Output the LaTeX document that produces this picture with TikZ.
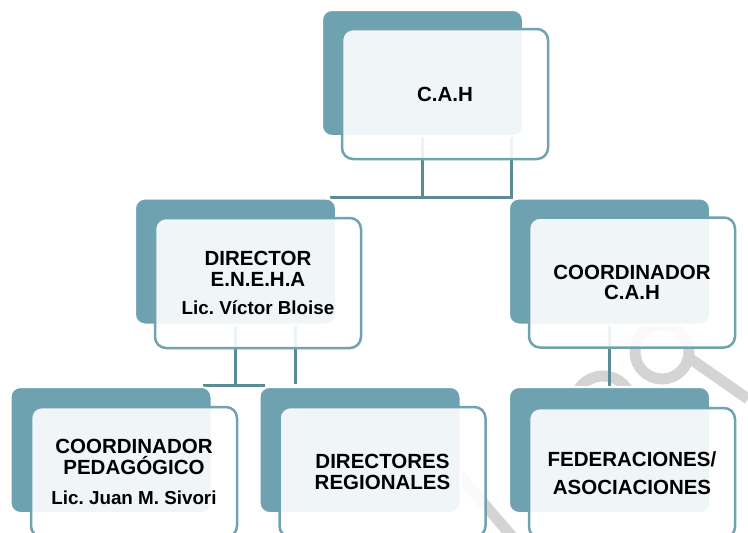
\documentclass[tikz,border=0pt]{standalone}
\usepackage{fontspec}
\setmainfont{Liberation Sans}
\usepackage{xcolor}
\usetikzlibrary{backgrounds}
\definecolor{tealback}{HTML}{6FA2B1}
\definecolor{tealframe}{HTML}{70A2B0}
\definecolor{teallink}{HTML}{5B8B97}
\definecolor{wmgray}{HTML}{D4D4D4}
\frenchspacing
\newcommand{\namefont}{\fontsize{18.8}{20.5}\selectfont}

\begin{document}
\begin{tikzpicture}[x=1pt, y=-1pt,
    backbox/.style={rectangle, rounded corners=10pt, fill=tealback, draw=white, line width=2pt,
        minimum width=201pt, minimum height=126pt},
    frontbox/.style={rectangle, rounded corners=11pt, fill=white, fill opacity=0.9, text opacity=1,
        draw=tealframe, draw opacity=1, line width=2.5pt, minimum width=206pt, minimum height=130pt,
        align=center, inner sep=0pt, font=\bfseries\fontsize{20.5}{20.5}\selectfont},
    link/.style={teallink, line width=3pt},
    wmline/.style={wmgray, line width=11pt}]
    \useasboundingbox (0,0) rectangle (748,533);
    \clip (0,0) rectangle (748,533);

    % back and front boxes
    \node[backbox] (cahB) at (422.5,73) {};
    \node[frontbox] (cah) at (445,94) {C.A.H};
    \node[backbox] (dirB) at (235.5,261.5) {};
    \node[frontbox] (dir) at (258,283) {DIRECTOR\\E.N.E.H.A\\[8pt]{\namefont Lic. Víctor Bloise}};
    \node[backbox] (coordB) at (609.5,261.5) {};
    \node[frontbox] (coord) at (632,282.5) {COORDINADOR\\C.A.H};
    \node[backbox] (pedB) at (111,450) {};
    \node[frontbox] (ped) at (134,472) {COORDINADOR\\PEDAGÓGICO\\[10pt]{\namefont Lic. Juan M. Sivori}};
    \node[backbox] (regB) at (360,450) {};
    \node[frontbox] (reg) at (382.5,472) {DIRECTORES\\REGIONALES};
    \node[backbox] (fedB) at (609.5,450) {};
    \node[frontbox] (fed) at (632,473) {FEDERACIONES/\\[8pt]ASOCIACIONES};

    \begin{scope}[on background layer]
    % watermark
    \draw[wmline] (603,405) circle (29);
    \draw[wmline] (662,352) circle (27);
    \draw[wmline] (685,355) -- (748,399);
    \draw[wmline] (455,470) -- (515,540);

    % connectors
    \coordinate (j1) at (330,197);
    \coordinate (j2) at (203,385);
    \coordinate (j3) at (265,385);
    \draw[link] (cahB.south) |- (j1);
    \draw[link] ([xshift=88.5pt]cahB.south) |- (j1);
    \draw[link] (dirB.south) |- (j2);
    \draw[link] (j2) -- (j3);
    \draw[link] ([xshift=59.5pt]dirB.south) -- ++(0,58);
    \draw[link] (coordB.south) -- (fedB.north);
    \end{scope}
\end{tikzpicture}
\end{document}
